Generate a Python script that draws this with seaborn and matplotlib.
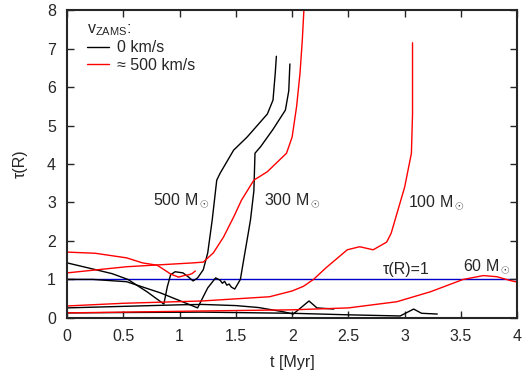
import numpy as np
import pandas as pd
import matplotlib
matplotlib.use("Agg")
import matplotlib.pyplot as plt
import seaborn as sns
from matplotlib.lines import Line2D

# ---- data ----
# 0 km/s (black)
t_b500 = [0, 0.23, 0.4, 0.54, 0.71, 0.86, 0.89, 0.92, 0.96, 1.03, 1.08, 1.12, 1.16, 1.21, 1.25, 1.29, 1.33, 1.36, 1.48, 1.6, 1.78, 1.83, 1.85, 1.86]
y_b500 = [1.43, 1.27, 1.15, 1.0, 0.68, 0.36, 0.8, 1.12, 1.2, 1.17, 1.06, 0.96, 1.04, 1.25, 1.69, 2.55, 3.58, 3.76, 4.36, 4.7, 5.3, 5.66, 6.36, 6.8]
t_b300 = [0, 0.23, 0.53, 0.83, 1.16, 1.21, 1.25, 1.32, 1.36, 1.38, 1.40, 1.42, 1.44, 1.46, 1.49, 1.54, 1.58, 1.61, 1.63, 1.66, 1.67, 1.72, 1.83, 1.94, 1.97, 1.98]
y_b300 = [1.0, 1.0, 0.94, 0.65, 0.26, 0.55, 0.78, 1.04, 0.98, 0.9, 0.95, 0.85, 0.88, 0.8, 0.75, 1.0, 1.69, 2.2, 2.55, 3.3, 4.28, 4.45, 4.9, 5.4, 5.9, 6.6]
t_b100 = [0, 0.5, 1.0, 1.2, 1.5, 1.7, 1.92, 2.01, 2.15, 2.22, 2.37]
y_b100 = [0.26, 0.3, 0.34, 0.35, 0.32, 0.27, 0.16, 0.1, 0.44, 0.26, 0.23]
t_b60 = [0, 0.5, 1.2, 2.0, 2.5, 2.96, 3.08, 3.15, 3.29]
y_b60 = [0.13, 0.14, 0.15, 0.12, 0.08, 0.05, 0.23, 0.12, 0.1]

# ~500 km/s (red)
t_r500 = [0, 0.25, 0.53, 0.67, 0.8, 0.89, 0.92, 0.99, 1.04, 1.08, 1.11, 1.14]
y_r500 = [1.71, 1.68, 1.56, 1.43, 1.37, 1.2, 1.14, 1.06, 1.1, 1.12, 1.15, 1.22]
t_r300 = [0, 0.53, 1.12, 1.21, 1.3, 1.39, 1.48, 1.55, 1.66, 1.78, 1.95, 2.0, 2.04, 2.07, 2.09, 2.11]
y_r300 = [1.17, 1.33, 1.43, 1.45, 1.69, 2.1, 2.62, 3.06, 3.58, 3.8, 4.28, 4.7, 5.5, 6.36, 7.2, 8.3]
t_r100 = [0, 0.5, 1.2, 1.8, 2.0, 2.1, 2.19, 2.3, 2.49, 2.6, 2.72, 2.84, 2.88, 2.93, 3.0, 3.03, 3.06, 3.07, 3.07]
y_r100 = [0.31, 0.38, 0.44, 0.55, 0.7, 0.82, 1.0, 1.3, 1.77, 1.85, 1.77, 1.97, 2.2, 2.7, 3.4, 3.84, 4.28, 5.3, 7.15]
t_r60 = [0, 0.5, 1.2, 2.0, 2.5, 2.93, 3.23, 3.52, 3.7, 3.82, 3.94, 4.0]
y_r60 = [0.13, 0.15, 0.18, 0.21, 0.26, 0.42, 0.68, 1.0, 1.1, 1.07, 0.97, 0.93]

labels = ["500 M$_\\odot$", "300 M$_\\odot$", "100 M$_\\odot$", "60 M$_\\odot$", "\u03c4(R)=1"]
label_t = [0.76, 1.75, 3.03, 3.52, 2.81]
label_y = [3.04, 3.04, 3.0, 1.32, 1.27]

xticks = [0, 0.5, 1, 1.5, 2, 2.5, 3, 3.5, 4]
xticklabels = ["0", "0.5", "1", "1.5", "2", "2.5", "3", "3.5", "4"]
yticks = [0, 1, 2, 3, 4, 5, 6, 7, 8]

# ---- build table ----
rows = []
series = [
    ("b500", "0 km/s", t_b500, y_b500),
    ("b300", "0 km/s", t_b300, y_b300),
    ("b100", "0 km/s", t_b100, y_b100),
    ("b60", "0 km/s", t_b60, y_b60),
    ("r500", "\u2248 500 km/s", t_r500, y_r500),
    ("r300", "\u2248 500 km/s", t_r300, y_r300),
    ("r100", "\u2248 500 km/s", t_r100, y_r100),
    ("r60", "\u2248 500 km/s", t_r60, y_r60),
]
for name, grp, ts, ys in series:
    for i, (t, y) in enumerate(zip(ts, ys)):
        rows.append({"track": name, "v": grp, "t": t, "tau": y, "order": i})
df = pd.DataFrame(rows)

sns.set_style("ticks")
plt.rcParams["font.family"] = ["Liberation Sans", "DejaVu Sans"]
plt.rcParams["mathtext.fontset"] = "custom"
plt.rcParams["mathtext.rm"] = "Liberation Sans"
plt.rcParams["mathtext.it"] = "Liberation Sans"

fig = plt.figure(figsize=(5.24, 3.74), dpi=100)
ax = fig.add_axes([0.128, 0.150, 0.859, 0.823])

palette = {"0 km/s": "black", "\u2248 500 km/s": "#ff0000"}
sns.lineplot(data=df, x="t", y="tau", hue="v", units="track", estimator=None,
             sort=False, palette=palette, lw=1.0, ax=ax, legend=False)

ax.axhline(1.0, color="#0000c8", lw=1.0, zorder=0)

for txt, tx, ty in zip(labels, label_t, label_y):
    ax.text(tx, ty, txt, fontsize=11.5, va="center", ha="left")

handles = [Line2D([], [], color="black", lw=1.0), Line2D([], [], color="#ff0000", lw=1.0)]
leg = ax.legend(handles, ["0 km/s", "\u2248 500 km/s"], title="v$_{ZAMS}$:",
                loc="upper left", bbox_to_anchor=(0.03, 0.985), frameon=False,
                fontsize=11.5, title_fontsize=11.5, handlelength=1.4,
                handletextpad=0.5, labelspacing=0.15, borderaxespad=0.0)
leg._legend_box.align = "left"

ax.set_xlim(0, 4)
ax.set_ylim(0, 8)
ax.set_xticks(xticks)
ax.set_xticklabels(xticklabels)
ax.set_yticks(yticks)
ax.tick_params(direction="in", top=True, right=True, length=5, width=1.0,
               labelsize=11.5, pad=8)
for s in ax.spines.values():
    s.set_linewidth(1.5)
ax.set_xlabel("t [Myr]", fontsize=11.5, labelpad=8)
ax.set_ylabel("\u03c4(R)", fontsize=11.5, labelpad=14)

fig.savefig("out.png", dpi=100)
